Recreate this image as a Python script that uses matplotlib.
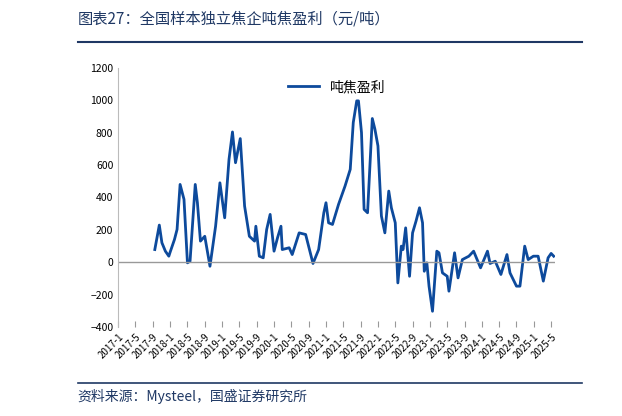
import matplotlib.pyplot as plt
import numpy as np

plt.rcParams['font.family'] = ['Noto Sans CJK SC', 'DejaVu Sans']

# month index since 2017-1
months = [8.46, 9.5, 10.1, 10.9, 11.7, 12.0, 13.0, 13.6, 14.3, 15.2, 16.0, 16.6, 17.8, 18.3, 19.0,
          20.0, 21.2, 22.5, 23.5, 24.6, 25.6, 26.4, 27.1, 28.2, 29.2, 30.3, 31.5, 31.8, 32.6, 33.5,
          34.3, 35.1, 36.0, 36.8, 37.6, 37.9, 39.5, 40.2, 41.8, 43.3, 45.0, 46.3, 47.5, 48.0, 48.6,
          49.5, 50.9, 52.4, 53.6, 54.3, 55.1, 55.5, 56.2, 56.8, 57.6, 58.7, 59.3, 60.0, 60.8, 61.6,
          62.5, 63.1, 64.0, 64.6, 65.4, 65.8, 66.4, 67.3, 68.0, 68.8, 69.6, 70.3, 70.7, 71.3, 71.8,
          72.6, 73.6, 74.1, 74.9, 76.0, 76.4, 77.7, 78.5, 79.5, 81.0, 82.1, 83.7, 85.3, 85.9, 87.1,
          88.4, 89.8, 90.5, 92.0, 92.8, 93.9, 94.7, 95.9, 97.0, 98.2, 99.3, 100.0, 100.6]
profit = [78, 229, 120, 68, 37, 62, 140, 202, 480, 388, -4, 6, 480, 367, 130,
          160, -25, 222, 490, 274, 635, 804, 614, 763, 346, 160, 130, 222, 37, 27,
          202, 295, 68, 150, 222, 78, 89, 47, 181, 171, -8, 78, 305, 367, 243,
          233, 357, 470, 573, 862, 996, 996, 800, 326, 305, 887, 821, 718, 285, 181,
          439, 336, 243, -128, 99, 78, 212, -87, 181, 254, 336, 243, -56, -4, -148,
          -303, 68, 58, -66, -87, -179, 58, -97, 16, 37, 68, -35, 68, -8, 6,
          -76, 47, -66, -148, -148, 99, 16, 37, 37, -117, 27, 54, 37]
tick_labels = [f'{y}-{m}' for y in range(2017, 2026) for m in (1, 5, 9)][:26]

blue = '#0d4a9c'
fig = plt.figure(figsize=(6.22, 4.16), dpi=100)
ax = fig.add_axes([0.19, 0.214, 0.703, 0.623])
ax.plot(months, profit, color=blue, lw=2, label='吨焦盈利')

ax.set_ylim(-400, 1200)
ax.set_yticks(range(-400, 1201, 200))
ax.set_xlim(0, 101)
ax.set_xticks(np.arange(0, 101, 4))
ax.set_xticklabels(tick_labels, rotation=45, ha='right', rotation_mode='anchor', fontsize=7)
ax.tick_params(axis='y', labelsize=7.5, length=0)
ax.tick_params(axis='x', length=4, color='#999999', direction='in')
for s in ['top', 'right', 'bottom']:
    ax.spines[s].set_visible(False)
ax.spines['left'].set_color('#bbbbbb')
ax.axhline(0, color='#999999', lw=1)
ax.legend(loc='upper center', frameon=False, fontsize=10, handlelength=2.2,
          bbox_to_anchor=(0.5, 1.0))

fig.text(0.125, 0.955, '图表27：全国样本独立焦企吨焦盈利（元/吨）', fontsize=11,
         style='italic', color='#1f3864', va='center')
fig.add_artist(plt.Line2D([0.125, 0.935], [0.898, 0.898], color='#1f3864', lw=1.5))
fig.add_artist(plt.Line2D([0.125, 0.935], [0.08, 0.08], color='#1f3864', lw=1.2))
fig.text(0.125, 0.048, '资料来源：Mysteel，国盛证券研究所', fontsize=10,
         style='italic', color='#1f3864', va='center')

fig.savefig('out.png', dpi=100)
